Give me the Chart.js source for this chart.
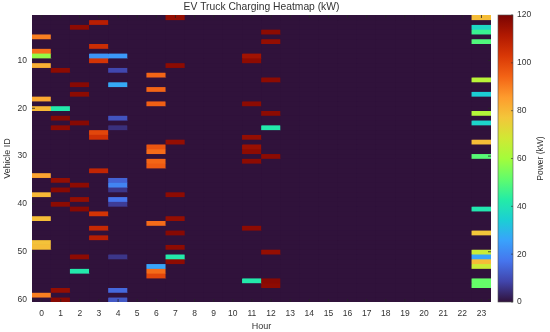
<!DOCTYPE html>
<html>
<head>
<meta charset="utf-8">
<title>EV Truck Charging Heatmap</title>
<script src="https://cdn.jsdelivr.net/npm/chart.js@4.4.1/dist/chart.umd.min.js"></script>
<style>
  html, body { margin: 0; padding: 0; background: #fff; }
  #wrap { width: 550px; height: 332px; }
</style>
</head>
<body>
<div id="wrap"><canvas id="heatmap" width="550" height="332"></canvas></div>
<script>
// Heatmap data
const hours = [0, 1, 2, 3, 4, 5, 6, 7, 8, 9, 10, 11, 12, 13, 14, 15, 16, 17, 18, 19, 20, 21, 22, 23];
const vehicleIds = Array.from({ length: 60 }, (_, i) => i + 1);
const vehicleTicks = [10, 20, 30, 40, 50, 60];
const powerTicks = [0, 20, 40, 60, 80, 100, 120];
const powerMax = 120;

// charging sessions: [vehicle id, hour, power kW] - every other cell is 0
const sessions = [
  [5, 0, 90], [8, 0, 92], [9, 0, 58], [11, 0, 82], [18, 0, 83], [20, 0, 80],
  [34, 0, 84], [38, 0, 80], [43, 0, 79], [48, 0, 78], [49, 0, 79], [59, 0, 90],
  [12, 1, 117], [20, 1, 42], [22, 1, 118], [24, 1, 117], [35, 1, 116], [37, 1, 118],
  [40, 1, 117], [58, 1, 116], [60, 1, 118],
  [3, 2, 117], [15, 2, 118], [17, 2, 117], [23, 2, 118], [36, 2, 117], [39, 2, 116],
  [41, 2, 118], [51, 2, 117], [54, 2, 42],
  [2, 3, 110], [7, 3, 106], [9, 3, 23], [10, 3, 104], [25, 3, 100], [26, 3, 105],
  [33, 3, 108], [42, 3, 104], [45, 3, 107], [47, 3, 110],
  [9, 4, 24], [12, 4, 9], [15, 4, 27], [22, 4, 11], [24, 4, 5], [35, 4, 14],
  [36, 4, 20], [37, 4, 6], [39, 4, 17], [40, 4, 7], [51, 4, 6], [58, 4, 15], [60, 4, 12],
  [13, 6, 94], [16, 6, 94], [19, 6, 95], [28, 6, 97], [29, 6, 93], [31, 6, 94],
  [32, 6, 96], [44, 6, 93], [53, 6, 26], [54, 6, 93], [55, 6, 100],
  [1, 7, 116], [11, 7, 117], [27, 7, 116], [38, 7, 117], [43, 7, 116], [46, 7, 118],
  [49, 7, 117], [51, 7, 42], [52, 7, 117],
  [9, 11, 114], [10, 11, 117], [19, 11, 117], [26, 11, 116], [28, 11, 115], [29, 11, 117],
  [31, 11, 117], [45, 11, 117], [56, 11, 42],
  [4, 12, 117], [6, 12, 116], [14, 12, 117], [21, 12, 117], [24, 12, 42], [30, 12, 117],
  [50, 12, 116], [56, 12, 118], [57, 12, 117],
  [1, 23, 79], [3, 23, 37], [4, 23, 46], [6, 23, 49], [14, 23, 64], [17, 23, 34],
  [21, 23, 63], [23, 23, 36], [27, 23, 79], [30, 23, 50], [41, 23, 41], [46, 23, 77],
  [50, 23, 67], [51, 23, 26], [52, 23, 79], [53, 23, 67], [56, 23, 52], [57, 23, 52]
];

// turbo colormap, 15 evenly spaced stops
const turboStops = ['#30123b', '#4145ab', '#4675ed', '#39a2fc', '#1bcfd4', '#24eca6', '#61fc6c',
  '#a4fc3b', '#d1e834', '#f3c63a', '#fe9b2d', '#f36315', '#d93806', '#b11901', '#7a0403'];

function hexToRgb(hex) {
  const n = parseInt(hex.slice(1), 16);
  return [(n >> 16) & 255, (n >> 8) & 255, n & 255];
}

function turbo(t) {
  t = Math.max(0, Math.min(1, t));
  const pos = t * (turboStops.length - 1);
  const i = Math.min(Math.floor(pos), turboStops.length - 2);
  const f = pos - i;
  const a = hexToRgb(turboStops[i]);
  const b = hexToRgb(turboStops[i + 1]);
  const c = a.map((v, k) => Math.round(v + (b[k] - v) * f));
  return 'rgb(' + c.join(',') + ')';
}

// build the full vehicle x hour grid
const grid = vehicleIds.map(() => hours.map(() => 0));
sessions.forEach(([v, h, kw]) => {
  grid[v - 1][hours.indexOf(h)] = kw;
});

const textColor = '#333333';
const fontFamily = '"Liberation Sans", Arial, Helvetica, sans-serif';

// one row of cells per vehicle, as floating bars
const datasets = vehicleIds.map((id, i) => ({
  label: 'Vehicle ' + id,
  data: hours.map(() => [id - 0.5, id + 0.5]),
  backgroundColor: grid[i].map(kw => turbo(kw / powerMax)),
  borderWidth: 0,
  barPercentage: 1,
  categoryPercentage: 1,
  grouped: false,
  yAxisID: 'y'
}));

// fill the plot area with the zero colour so bar seams don't show
const plotBackground = {
  id: 'plotBackground',
  beforeDatasetsDraw(chart) {
    const { ctx, chartArea } = chart;
    ctx.save();
    ctx.fillStyle = turbo(0);
    ctx.fillRect(chartArea.left, chartArea.top, chartArea.right - chartArea.left, chartArea.bottom - chartArea.top);
    ctx.restore();
  }
};

// matlab style tick marks pointing into the plot on all four sides
const innerTicks = {
  id: 'innerTicks',
  afterDatasetsDraw(chart) {
    const { ctx, chartArea } = chart;
    const { x, y } = chart.scales;
    const len = 3;
    ctx.save();
    ctx.strokeStyle = '#262626';
    ctx.lineWidth = 0.8;
    ctx.beginPath();
    vehicleTicks.forEach(v => {
      const py = y.getPixelForValue(v);
      ctx.moveTo(chartArea.left, py);
      ctx.lineTo(chartArea.left + len, py);
      ctx.moveTo(chartArea.right, py);
      ctx.lineTo(chartArea.right - len, py);
    });
    hours.forEach((h, i) => {
      const px = x.getPixelForValue(i);
      ctx.moveTo(px, chartArea.bottom);
      ctx.lineTo(px, chartArea.bottom - len);
      ctx.moveTo(px, chartArea.top);
      ctx.lineTo(px, chartArea.top + len);
    });
    ctx.stroke();
    ctx.restore();
  }
};

// colorbar, title and colorbar label
const colorbar = {
  id: 'colorbar',
  afterDraw(chart) {
    const { ctx, chartArea } = chart;
    const scale = chart.scales.cbar;
    const top = scale.getPixelForValue(powerMax);
    const bottom = scale.getPixelForValue(0);
    const x = chartArea.right + 7;
    const w = 15;

    ctx.save();
    const grad = ctx.createLinearGradient(0, bottom, 0, top);
    turboStops.forEach((c, i) => grad.addColorStop(i / (turboStops.length - 1), c));
    ctx.fillStyle = grad;
    ctx.fillRect(x, top, w, bottom - top);
    ctx.strokeStyle = '#555';
    ctx.lineWidth = 0.6;
    ctx.strokeRect(x, top, w, bottom - top);

    // small tick marks on the colorbar edge
    ctx.strokeStyle = '#333';
    powerTicks.forEach(v => {
      const y = scale.getPixelForValue(v);
      ctx.beginPath();
      ctx.moveTo(x + w - 2, y);
      ctx.lineTo(x + w, y);
      ctx.stroke();
    });

    ctx.fillStyle = textColor;
    ctx.textAlign = 'center';
    ctx.textBaseline = 'middle';
    ctx.font = '10.3px ' + fontFamily;
    ctx.fillText('EV Truck Charging Heatmap (kW)', (chartArea.left + chartArea.right) / 2, 7);

    ctx.translate(541, (chartArea.top + chartArea.bottom) / 2);
    ctx.rotate(-Math.PI / 2);
    ctx.font = '8.5px ' + fontFamily;
    ctx.fillText('Power (kW)', 0, 0);
    ctx.restore();
  }
};

// fixed axis sizes, no extra edge padding from tick labels
function fixVertical(width) {
  return s => {
    s.width = width;
    s.paddingTop = 0;
    s.paddingBottom = 0;
  };
}

const ctx = document.getElementById('heatmap');
new Chart(ctx, {
  type: 'bar',
  data: { labels: hours, datasets: datasets },
  options: {
    responsive: false,
    animation: false,
    layout: { padding: { top: 15 } },
    plugins: {
      legend: { display: false },
      tooltip: { enabled: false },
      title: { display: false }
    },
    scales: {
      x: {
        grid: { display: false, drawTicks: false },
        border: { display: false },
        ticks: {
          color: textColor,
          padding: 7,
          maxRotation: 0,
          autoSkip: false,
          font: { family: fontFamily, size: 8.5 }
        },
        title: {
          display: true,
          text: 'Hour',
          color: textColor,
          padding: { top: 0, bottom: 0 },
          font: { family: fontFamily, size: 9 }
        },
        afterFit: s => {
          s.height = 30;
          s.paddingLeft = 0;
          s.paddingRight = 0;
        }
      },
      y: {
        type: 'linear',
        min: 0.5,
        max: 60.5,
        reverse: true,
        grid: { display: false, drawTicks: false },
        border: { display: false },
        afterBuildTicks: s => { s.ticks = vehicleTicks.map(v => ({ value: v })); },
        ticks: {
          color: textColor,
          padding: 5,
          font: { family: fontFamily, size: 8.5 }
        },
        title: {
          display: true,
          text: 'Vehicle ID',
          color: textColor,
          padding: { top: 2, bottom: 0 },
          font: { family: fontFamily, size: 9 }
        },
        afterFit: fixVertical(32)
      },
      cbar: {
        type: 'linear',
        position: 'right',
        min: 0,
        max: powerMax,
        grid: { display: false, drawTicks: false },
        border: { display: false },
        afterBuildTicks: s => { s.ticks = powerTicks.map(v => ({ value: v })); },
        ticks: {
          color: textColor,
          padding: 26,
          font: { family: fontFamily, size: 8.5 }
        },
        afterFit: fixVertical(59)
      }
    }
  },
  plugins: [plotBackground, innerTicks, colorbar]
});
</script>
</body>
</html>
